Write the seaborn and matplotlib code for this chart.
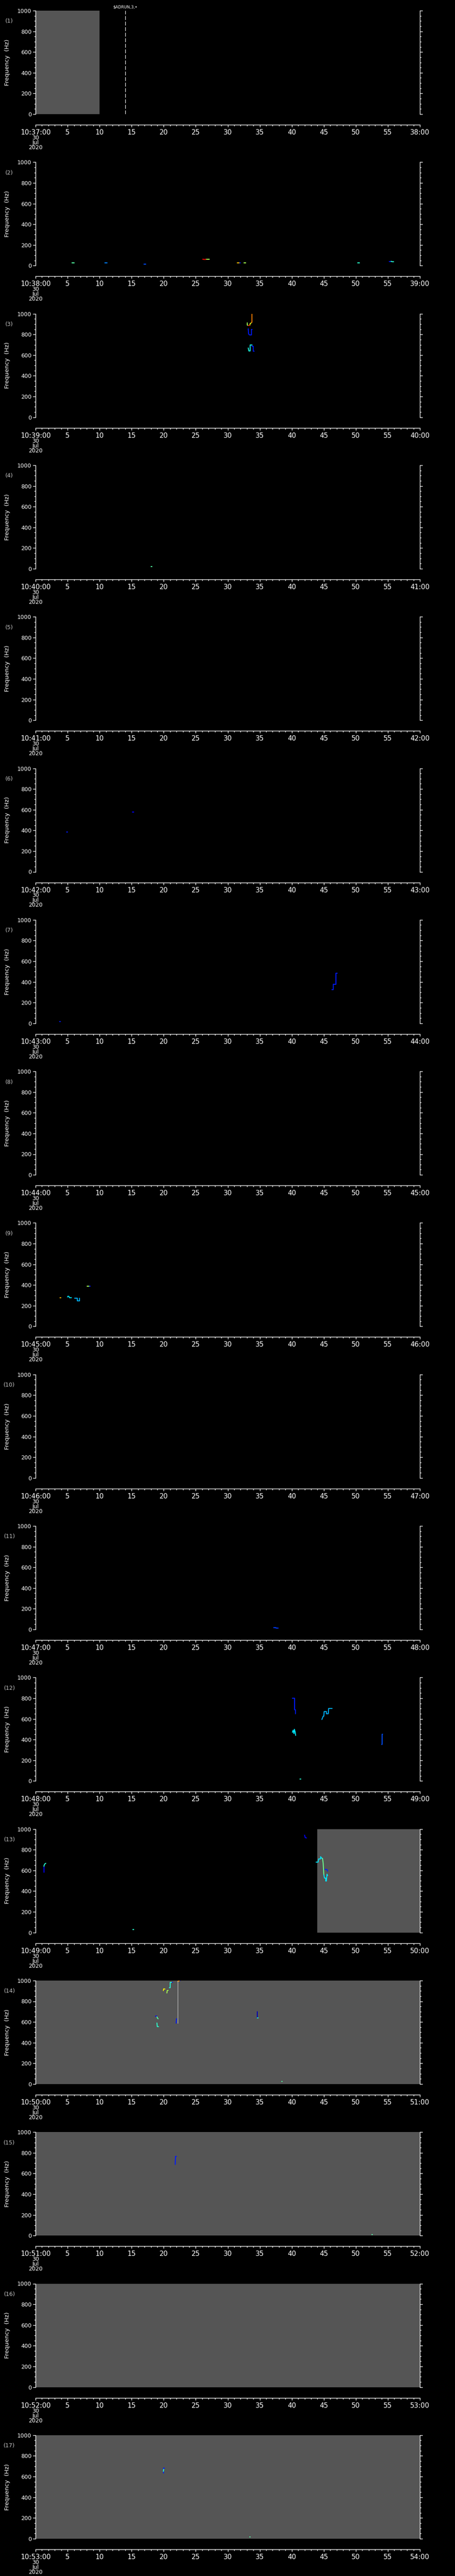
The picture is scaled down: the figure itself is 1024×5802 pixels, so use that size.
import matplotlib
matplotlib.use("Agg")
import matplotlib.pyplot as plt
import matplotlib.transforms as mtransforms
from matplotlib.ticker import MultipleLocator
import seaborn as sns
import pandas as pd

# one panel per minute, 10:37 ... 10:53 on 30 Jul 2020
panel_minutes = list(range(37, 54))
date_lines = ["30", "Jul", "2020"]

# grey (no data) stretches: panel number, start s, end s
gray_panel = [1, 13, 14, 15, 16, 17]
gray_start = [0, 44, 0, 0, 0, 0]
gray_end = [10, 60, 60, 60, 60, 60]

# marker on the first panel
marker_sec = 14.0
marker_label = r"\$ADRUN,3,•"

# frequency traces: panel, seconds, Hz, colour level (0 = dark blue .. 1 = red)
trace_panel = [2, 2, 2, 2, 2, 2, 2, 2, 2, 2, 2,
               3, 3, 3, 3, 3, 3, 3,
               4,
               6, 6,
               7, 7,
               9, 9, 9, 9, 9,
               11,
               12, 12, 12, 12, 12,
               13, 13, 13, 13, 13, 13, 13, 13,
               14, 14, 14, 14, 14, 14, 14, 14, 14, 14, 14, 14, 14,
               15, 15,
               17, 17, 17]
trace_sec = [
    [5.7, 6.0], [10.8, 11.2], [16.9, 17.2], [26.1, 26.3, 26.6], [26.6, 27.1],
    [31.5, 31.8], [31.8, 32.0], [32.5, 32.8], [50.3, 50.6], [55.2, 55.5], [55.5, 55.7, 55.9],
    [33.7, 33.8, 33.8], [33.05, 33.05, 33.2], [33.2, 33.45], [33.45, 33.5, 33.65],
    [33.2, 33.25, 33.4, 33.7, 33.7, 33.8], [33.2, 33.3, 33.5, 33.5, 33.8], [33.8, 33.8, 34.0, 34.0, 34.15],
    [18.0, 18.15],
    [4.85, 5.0], [15.15, 15.3],
    [46.25, 46.45, 46.45, 46.9, 46.9, 47.1], [3.75, 3.9],
    [3.8, 3.95], [5.0, 5.05, 5.2, 5.3, 5.6], [6.1, 6.5, 6.5, 6.85, 6.85], [8.05, 8.3], [8.3, 8.55],
    [37.2, 37.5, 37.5, 37.9],
    [40.1, 40.45, 40.45, 40.6, 40.6], [40.1, 40.2, 40.3, 40.35, 40.4, 40.55, 40.6],
    [44.7, 44.9, 45.0, 45.05, 45.4, 45.4, 45.7, 45.75, 46.3], [54.0, 54.1, 54.1, 54.2], [41.3, 41.4],
    [1.3, 1.3], [1.3, 1.4, 1.6], [15.2, 15.3], [42.0, 42.1, 42.3],
    [43.8, 44.1, 44.2, 44.5, 44.5, 44.7, 44.8], [44.8, 44.9, 45.0],
    [45.0, 45.1, 45.3, 45.3, 45.4, 45.5, 45.6], [45.2, 45.5, 45.6],
    [18.7, 18.95], [18.95, 19.05, 19.15], [18.95, 19.0, 19.2], [19.95, 20.0, 20.2], [20.5, 20.55, 20.7],
    [20.9, 21.0, 21.0, 21.2], [21.2, 21.35], [21.95, 22.0, 22.05], [22.2, 22.45], [22.4, 22.55],
    [34.6, 34.6], [34.6, 34.75], [38.4, 38.5],
    [21.8, 21.85, 22.0], [52.5, 52.6],
    [20.0, 20.0, 20.1], [19.95, 20.0], [33.4, 33.5],
]
trace_hz = [
    [26, 26], [26, 26], [13, 13], [62, 60, 60], [60, 60],
    [26, 26], [26, 26], [26, 26], [26, 26], [41, 41], [42, 38, 38],
    [915, 915, 998], [912, 890, 887], [887, 887], [887, 905, 910],
    [855, 805, 795, 795, 848, 848], [669, 640, 640, 698, 698], [698, 683, 683, 637, 637],
    [20, 20],
    [384, 384], [576, 576],
    [326, 326, 376, 376, 483, 483], [17, 17],
    [276, 276], [284, 291, 290, 277, 277], [271, 271, 246, 246, 271], [387, 387], [387, 387],
    [19, 19, 13, 13],
    [799, 799, 690, 690, 650], [470, 490, 470, 458, 500, 470, 440],
    [594, 626, 626, 671, 671, 650, 650, 701, 701], [353, 353, 450, 450], [19, 19],
    [583, 640], [640, 660, 669], [27, 27], [941, 917, 914],
    [680, 680, 711, 711, 733, 716, 716], [716, 669, 562],
    [560, 526, 526, 497, 497, 564, 550], [610, 608, 593],
    [655, 655], [650, 635, 631], [590, 555, 555], [903, 920, 918], [880, 903, 905],
    [931, 931, 984, 984], [984, 984], [588, 630, 630], [992, 998], [998, 998],
    [700, 641], [641, 641], [26, 26],
    [687, 765, 765], [9, 9],
    [636, 682, 682], [650, 670], [17, 17],
]
trace_lvl = [0.45, 0.25, 0.2, 0.9, 0.55, 0.7, 0.15, 0.55, 0.4, 0.15, 0.4,
             0.78, 0.55, 0.9, 0.62, 0.15, 0.38, 0.15,
             0.45,
             0.15, 0.12,
             0.15, 0.15,
             0.72, 0.35, 0.3, 0.55, 0.15,
             0.18,
             0.15, 0.35, 0.3, 0.2, 0.4,
             0.1, 0.4, 0.4, 0.12, 0.35, 0.48, 0.35, 0.15,
             0.1, 0.45, 0.4, 0.65, 0.55, 0.4, 0.12, 0.15, 0.75, 0.12, 0.05, 0.4, 0.45,
             0.15, 0.45,
             0.15, 0.4, 0.45]

# pale vertical streak in panel 14
streak_sec = [22.2, 22.2]
streak_hz = [588, 996]

rows = []
for i, (p, secs, hzs, lvl) in enumerate(zip(trace_panel, trace_sec, trace_hz, trace_lvl)):
    for s, h in zip(secs, hzs):
        rows.append({"panel": p, "trace": i, "sec": s, "hz": h, "lvl": lvl})
df = pd.DataFrame(rows)
streak = pd.DataFrame({"sec": streak_sec, "hz": streak_hz})

jet = matplotlib.colormaps["jet"]

sns.set_theme(style="ticks")
plt.rcParams.update({
    "font.family": ["DejaVu Sans"],
    "figure.facecolor": "black",
    "axes.facecolor": "black",
    "axes.edgecolor": "white",
    "axes.labelcolor": "white",
    "text.color": "white",
    "xtick.color": "white",
    "ytick.color": "white",
})

W, H = 1024, 5802
fig = plt.figure(figsize=(W / 100, H / 100), dpi=100)
left_px, plot_w, plot_h, step = 80, 865, 233, 341.3

for k, minute in enumerate(panel_minutes):
    num = k + 1
    top = 24 + k * step
    ax = fig.add_axes([left_px / W, 1 - (top + plot_h) / H, plot_w / W, plot_h / H])
    ax.set_facecolor("black")

    for p, a, b in zip(gray_panel, gray_start, gray_end):
        if p == num:
            ax.axvspan(a, b, color="#555555", lw=0, zorder=0)

    sub = df[df["panel"] == num]
    if len(sub):
        sns.lineplot(data=sub, x="sec", y="hz", hue="lvl", units="trace", estimator=None,
                     palette=jet, hue_norm=(0, 1), sort=False, legend=False,
                     lw=1.5, ax=ax)
    if num == 14:
        sns.lineplot(data=streak, x="sec", y="hz", color="#d8d8d8", lw=0.7,
                     sort=False, estimator=None, ax=ax)
    if num == 1:
        ax.axvline(marker_sec, color="white", lw=0.9, ls=(0, (7, 3)))
        trans = mtransforms.blended_transform_factory(ax.transData, ax.transAxes)
        ax.text(marker_sec, 1.034, marker_label, transform=trans, ha="center",
                va="center", fontsize=6.5, color="white")

    ax.set_xlim(0, 60)
    ax.set_ylim(0, 1000)
    ax.xaxis.set_minor_locator(MultipleLocator(1))
    ax.yaxis.set_minor_locator(MultipleLocator(50))
    xlabels = [f"10:{minute:02d}:00"] + [str(s) for s in range(5, 60, 5)] + [f"{minute + 1:02d}:00"]
    ax.set_xticks(range(0, 61, 5))
    ax.set_xticklabels(xlabels, fontsize=9)
    ax.set_yticks(range(0, 1001, 200))
    ax.set_yticklabels([str(v) for v in range(0, 1001, 200)], fontsize=9)

    # date lines stacked under the first time label
    base = mtransforms.blended_transform_factory(ax.transData, ax.transAxes)
    for j, line in enumerate(date_lines):
        off = mtransforms.ScaledTranslation(0, -(53.5 + 11 * j) / 100, fig.dpi_scale_trans)
        ax.text(0, 0, line, transform=base + off, ha="center", va="center",
                fontsize=9, color="white")

    ax.tick_params(axis="y", which="both", direction="out", left=True, right=True, pad=2)
    ax.tick_params(axis="y", which="major", length=4.5, width=1)
    ax.tick_params(axis="y", which="minor", length=2, width=1)
    ax.tick_params(axis="x", which="both", direction="out", bottom=True, top=False, pad=3.8)
    ax.tick_params(axis="x", which="major", length=3.4, width=1)
    ax.tick_params(axis="x", which="minor", length=2.2, width=1)

    for side in ["left", "right", "bottom"]:
        ax.spines[side].set_visible(True)
        ax.spines[side].set_color("white")
        ax.spines[side].set_linewidth(1)
    ax.spines["top"].set_visible(False)
    ax.spines["bottom"].set_position(("outward", 17.3))

    ax.set_xlabel("")
    ax.set_ylabel("Frequency  (Hz)", fontsize=9.5, color="white")
    ax.yaxis.set_label_coords(-0.066, 0.5)
    ax.text(-0.068, 0.897, f"({num})", transform=ax.transAxes, ha="center", va="center",
            fontsize=9, color="#c4c4c4")

fig.savefig("out.png", dpi=100, facecolor="black")
